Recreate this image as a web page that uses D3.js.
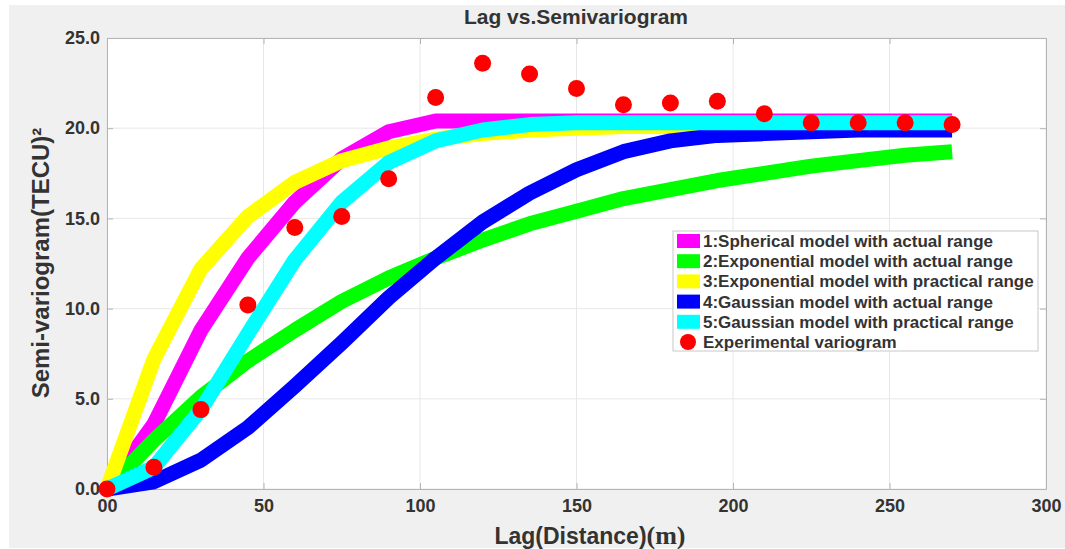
<!DOCTYPE html>
<html>
<head>
<meta charset="utf-8">
<script src="https://cdnjs.cloudflare.com/ajax/libs/d3/7.8.5/d3.min.js"></script>
<style>
	body { margin: 0; background: #fff; }
	text { font-family: "Liberation Sans", Arial, sans-serif; }
</style>
</head>
<body>
<div id="canvas"></div>
<script>
// Data (lag step of 15 m)
const lags = [0, 15, 30, 45, 60, 75, 90, 105, 120, 135, 150, 165, 180, 195, 210, 225, 240, 255, 270]
const experimental = [0.0, 1.2, 4.4, 10.2, 14.5, 15.1, 17.2, 21.7, 23.6, 23.0, 22.2, 21.3, 21.4, 21.5, 20.8, 20.3, 20.3, 20.3, 20.2]
const sphericalActual = [0, 3.6, 8.8, 12.8, 15.9, 18.3, 19.8, 20.4, 20.4, 20.4, 20.4, 20.4, 20.4, 20.4, 20.4, 20.4, 20.4, 20.4, 20.4]
const exponentialActual = [0, 2.7, 5.1, 7.1, 8.8, 10.4, 11.7, 12.8, 13.8, 14.7, 15.4, 16.1, 16.6, 17.1, 17.5, 17.9, 18.2, 18.5, 18.7]
const exponentialPractical = [0, 7.2, 12.2, 15.1, 17.0, 18.2, 18.9, 19.4, 19.7, 19.9, 20.0, 20.1, 20.1, 20.2, 20.2, 20.2, 20.2, 20.2, 20.2]
const gaussianActual = [0, 0.4, 1.6, 3.4, 5.7, 8.1, 10.6, 12.8, 14.8, 16.4, 17.7, 18.7, 19.3, 19.6, 19.7, 19.8, 19.9, 19.9, 19.9]
const gaussianPractical = [0, 1.2, 4.4, 8.6, 12.7, 15.9, 18.1, 19.3, 19.9, 20.2, 20.3, 20.3, 20.3, 20.3, 20.3, 20.3, 20.3, 20.3, 20.3]

const modelNames = [
	'1:Spherical model with actual range',
	'2:Exponential model with actual range',
	'3:Exponential model with practical range',
	'4:Gaussian model with actual range',
	'5:Gaussian model with practical range',
]
const experimentalName = 'Experimental variogram'
const xTicks = [0, 50, 100, 150, 200, 250, 300]
const xTickLabels = ['00', '50', '100', '150', '200', '250', '300']
const yTicks = [0, 5, 10, 15, 20, 25]

// Constants
const colors = {
	figure: '#f0f0f0',
	grid: '#e8e8e8',
	axis: '#b4b4b4',
	text: '#333333',
	models: ['#ff00ff', '#00ff00', '#ffff00', '#0000ff', '#00ffff'],
	dots: '#ff0000',
}
const width = 1065, height = 549
const plot = {left: 107, right: 1046, top: 38, bottom: 489}

const svg = d3.select('#canvas').append('svg')
	.attr('width', width).attr('height', height)

svg.append('rect')
	.attr('x', 9).attr('y', 5).attr('width', width - 9).attr('height', height - 6)
	.attr('fill', colors.figure)

const x = d3.scaleLinear().domain([0, 300]).range([plot.left, plot.right])
const y = d3.scaleLinear().domain([0, 25]).range([plot.bottom, plot.top])

svg.append('rect')
	.attr('x', plot.left).attr('y', plot.top)
	.attr('width', plot.right - plot.left).attr('height', plot.bottom - plot.top)
	.attr('fill', '#fff')

// Grid
const grid = svg.append('g')
grid.selectAll('.vgrid').data(xTicks).enter().append('line')
	.attr('x1', d => x(d)).attr('x2', d => x(d))
	.attr('y1', plot.top).attr('y2', plot.bottom)
	.attr('stroke', colors.grid)
grid.selectAll('.hgrid').data(yTicks).enter().append('line')
	.attr('x1', plot.left).attr('x2', plot.right)
	.attr('y1', d => y(d)).attr('y2', d => y(d))
	.attr('stroke', colors.grid)

// Axes, ticks pointing inside like matlab
function styleAxis(g) {
	g.select('.domain').attr('stroke', colors.axis)
	g.selectAll('.tick line').attr('stroke', colors.axis)
	g.selectAll('.tick text')
		.attr('fill', colors.text)
		.attr('font-size', 18)
		.attr('font-weight', 'bold')
		.attr('font-family', '"Liberation Sans", Arial, sans-serif')
}

svg.append('g')
	.attr('transform', `translate(0,${plot.bottom})`)
	.call(d3.axisBottom(x).tickValues(xTicks).tickFormat((d, i) => xTickLabels[i]).tickSize(-6).tickSizeOuter(0).tickPadding(10))
	.call(styleAxis)
svg.append('g')
	.attr('transform', `translate(0,${plot.top})`)
	.call(d3.axisTop(x).tickValues(xTicks).tickFormat('').tickSize(-6).tickSizeOuter(0))
	.call(styleAxis)
svg.append('g')
	.attr('transform', `translate(${plot.left},0)`)
	.call(d3.axisLeft(y).tickValues(yTicks).tickFormat(d3.format('.1f')).tickSize(-6).tickSizeOuter(0).tickPadding(7))
	.call(styleAxis)
svg.append('g')
	.attr('transform', `translate(${plot.right},0)`)
	.call(d3.axisRight(y).tickValues(yTicks).tickFormat('').tickSize(-6).tickSizeOuter(0))
	.call(styleAxis)

// Model curves
const models = [sphericalActual, exponentialActual, exponentialPractical, gaussianActual, gaussianPractical]
const lineGen = d3.line()
	.x((d, i) => x(lags[i]))
	.y(d => y(d))

svg.append('g').selectAll('.model').data(models).enter()
	.append('path')
	.classed('model', true)
	.attr('d', d => lineGen(d))
	.attr('fill', 'none')
	.attr('stroke', (d, i) => colors.models[i])
	.attr('stroke-width', 15)
	.attr('stroke-linejoin', 'round')

// Experimental variogram
svg.append('g').selectAll('circle').data(experimental).enter()
	.append('circle')
	.attr('cx', (d, i) => x(lags[i]))
	.attr('cy', d => y(d))
	.attr('r', 8.5)
	.attr('fill', colors.dots)

// Title and labels
svg.append('text')
	.attr('x', 576).attr('y', 24)
	.attr('text-anchor', 'middle')
	.attr('font-size', 21).attr('font-weight', 'bold')
	.attr('fill', colors.text)
	.text('Lag vs.Semivariogram')

const xLabel = svg.append('text')
	.attr('x', 590).attr('y', 544)
	.attr('text-anchor', 'middle')
	.attr('font-size', 23).attr('font-weight', 'bold')
	.attr('fill', colors.text)
xLabel.append('tspan').text('Lag(Distance)')
xLabel.append('tspan')
	.attr('font-family', '"Liberation Serif", "Times New Roman", serif')
	.attr('font-size', 26)
	.text('(m)')

svg.append('text')
	.attr('transform', `translate(49,263) rotate(-90)`)
	.attr('text-anchor', 'middle')
	.attr('font-size', 24).attr('font-weight', 'bold')
	.attr('fill', colors.text)
	.text('Semi-variogram(TECU)²')

// Legend
const legend = svg.append('g').attr('transform', 'translate(673,231)')
legend.append('rect')
	.attr('width', 365).attr('height', 120)
	.attr('fill', '#fff')
	.attr('stroke', '#c8c8c8')

const legendRows = legend.selectAll('.row').data(modelNames.concat([experimentalName])).enter()
	.append('g')
	.attr('transform', (d, i) => `translate(0,${10 + i * 20.2})`)
legendRows.filter((d, i) => i < 5).append('rect')
	.attr('x', 4).attr('y', -7).attr('width', 23).attr('height', 14)
	.attr('fill', (d, i) => colors.models[i])
legendRows.filter((d, i) => i === 5).append('circle')
	.attr('cx', 15).attr('cy', 0).attr('r', 8)
	.attr('fill', colors.dots)
legendRows.append('text')
	.attr('x', 30).attr('y', 6)
	.attr('font-size', 17).attr('font-weight', 'bold')
	.attr('fill', colors.text)
	.text(d => d)
</script>
</body>
</html>
